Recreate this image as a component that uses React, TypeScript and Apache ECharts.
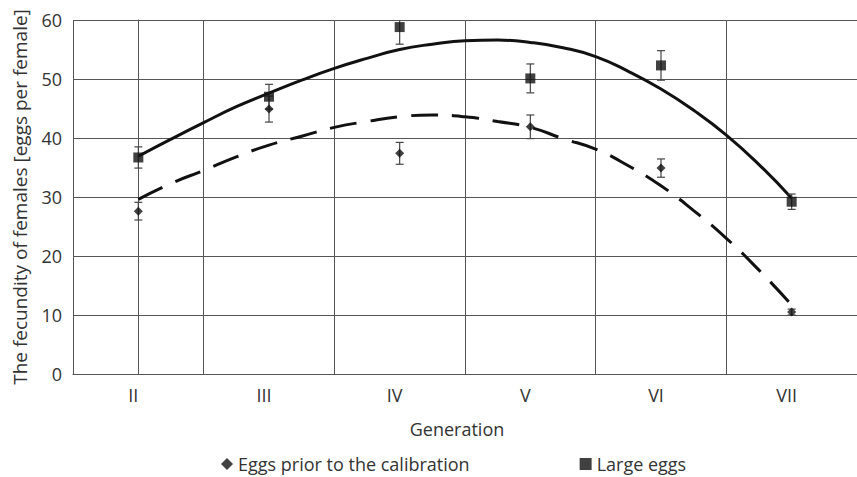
import React, { useEffect, useRef } from "react";
import * as echarts from "echarts";

const generations = ["II", "III", "IV", "V", "VI", "VII"];
const yTicks = [0, 10, 20, 30, 40, 50, 60];

const priorMean = [27.6, 44.9, 37.4, 41.9, 34.9, 10.5];
const priorErr = [1.5, 2.2, 1.85, 2.0, 1.55, 0.5];
const largeMean = [36.7, 47.0, 58.8, 50.1, 52.3, 29.2];
const largeErr = [1.8, 2.1, 2.9, 2.45, 2.5, 1.3];

// trend curves, at quarter-generation positions
const curveX = [0, 0.25, 0.5, 0.75, 1, 1.25, 1.5, 1.75, 2, 2.25, 2.5, 2.75, 3, 3.25, 3.5, 3.75, 4, 4.25, 4.5, 4.75, 5];
const largeTrend = [36.9, 39.8, 42.6, 45.3, 47.6, 49.8, 51.8, 53.5, 55.0, 55.9, 56.5, 56.6, 56.2, 55.3, 53.8, 51.3, 48.3, 44.7, 40.5, 35.5, 29.8];
const priorTrend = [29.6, 32.3, 34.5, 36.8, 38.8, 40.3, 41.8, 42.8, 43.6, 43.9, 43.6, 42.8, 41.8, 39.9, 38.1, 35.3, 31.9, 27.7, 23.0, 17.6, 11.7];

const FONT = "Open Sans";
const TXT = "#333";
const GRID = "#555";
const FS = 18;

function errData(mean: number[], err: number[]) {
  return mean.map((m, i) => [i, m - err[i], m + err[i]]);
}

function errorBarSeries(data: number[][]) {
  return {
    type: "custom",
    xAxisIndex: 0,
    yAxisIndex: 0,
    z: 3,
    silent: true,
    clip: true,
    data,
    renderItem: (params: any, api: any) => {
      const x = api.value(0);
      const lo = api.coord([x, api.value(1)]);
      const hi = api.coord([x, api.value(2)]);
      const w = 4;
      const style = { stroke: "#444", lineWidth: 1.2 };
      return {
        type: "group",
        children: [
          { type: "line", shape: { x1: lo[0], y1: lo[1], x2: hi[0], y2: hi[1] }, style },
          { type: "line", shape: { x1: lo[0] - w, y1: lo[1], x2: lo[0] + w, y2: lo[1] }, style },
          { type: "line", shape: { x1: hi[0] - w, y1: hi[1], x2: hi[0] + w, y2: hi[1] }, style },
        ],
      };
    },
  };
}

export default function App() {
  const ref = useRef<HTMLDivElement>(null);
  useEffect(() => {
    if (!ref.current) return;
    const chart = echarts.init(ref.current, null, { renderer: "svg" });
    chart.setOption({
      animation: false,
      backgroundColor: "#fff",
      textStyle: { fontFamily: FONT, color: TXT },
      grid: { left: 73, top: 20, width: 792, height: 354 },
      legend: {
        left: 216,
        top: 450,
        itemGap: 110,
        itemWidth: 12,
        itemHeight: 12,
        textStyle: { fontFamily: FONT, fontSize: FS, color: TXT },
        data: [
          { name: "Eggs prior to the calibration", icon: "diamond" },
          { name: "Large eggs", icon: "rect" },
        ],
      },
      xAxis: [
        {
          type: "category",
          data: generations,
          boundaryGap: true,
          name: "Generation",
          nameLocation: "middle",
          nameGap: 46,
          nameTextStyle: { fontFamily: FONT, fontSize: FS, color: TXT, padding: [0, 16, 0, 0] },
          axisLine: { show: true, lineStyle: { color: GRID, width: 1 } },
          axisTick: { show: false },
          axisLabel: {
            margin: 12,
            formatter: (v: string) => `{a|${v}}`,
            rich: { a: { fontFamily: FONT, fontSize: FS, color: TXT, padding: [0, 10, 0, 0] } },
          },
          splitLine: { show: true, lineStyle: { color: GRID, width: 1 } },
        },
        { type: "value", min: -0.5, max: 5.5, show: false },
      ],
      yAxis: {
        type: "value",
        min: yTicks[0],
        max: yTicks[yTicks.length - 1],
        interval: 10,
        name: "The fecundity of females [eggs per female]",
        nameLocation: "middle",
        nameGap: 44,
        nameTextStyle: { fontFamily: FONT, fontSize: 19, color: TXT },
        axisLine: { show: true, lineStyle: { color: GRID, width: 1 } },
        axisTick: { show: false },
        axisLabel: { margin: 11, fontFamily: FONT, fontSize: FS, color: TXT },
        splitLine: { show: true, lineStyle: { color: GRID, width: 1 } },
      },
      series: [
        {
          name: "Large trend",
          type: "line",
          xAxisIndex: 1,
          smooth: true,
          showSymbol: false,
          silent: true,
          z: 2,
          lineStyle: { color: "#111", width: 3 },
          data: curveX.map((x, i) => [x, largeTrend[i]]),
        },
        {
          name: "Prior trend",
          type: "line",
          xAxisIndex: 1,
          smooth: true,
          showSymbol: false,
          silent: true,
          z: 2,
          lineStyle: { color: "#111", width: 3, type: [27, 14] },
          data: curveX.map((x, i) => [x, priorTrend[i]]),
        },
        errorBarSeries(errData(largeMean, largeErr)),
        errorBarSeries(errData(priorMean, priorErr)),
        {
          name: "Eggs prior to the calibration",
          type: "scatter",
          symbol: "diamond",
          symbolSize: 9,
          z: 4,
          itemStyle: { color: "#111" },
          data: priorMean,
        },
        {
          name: "Large eggs",
          type: "scatter",
          symbol: "rect",
          symbolSize: 10,
          z: 4,
          itemStyle: { color: "#111" },
          data: largeMean,
        },
      ],
    });
    return () => chart.dispose();
  }, []);
  return (
    <div
      ref={ref}
      style={{ position: "fixed", left: 0, top: 0, width: 857, height: 477 }}
    />
  );
}
